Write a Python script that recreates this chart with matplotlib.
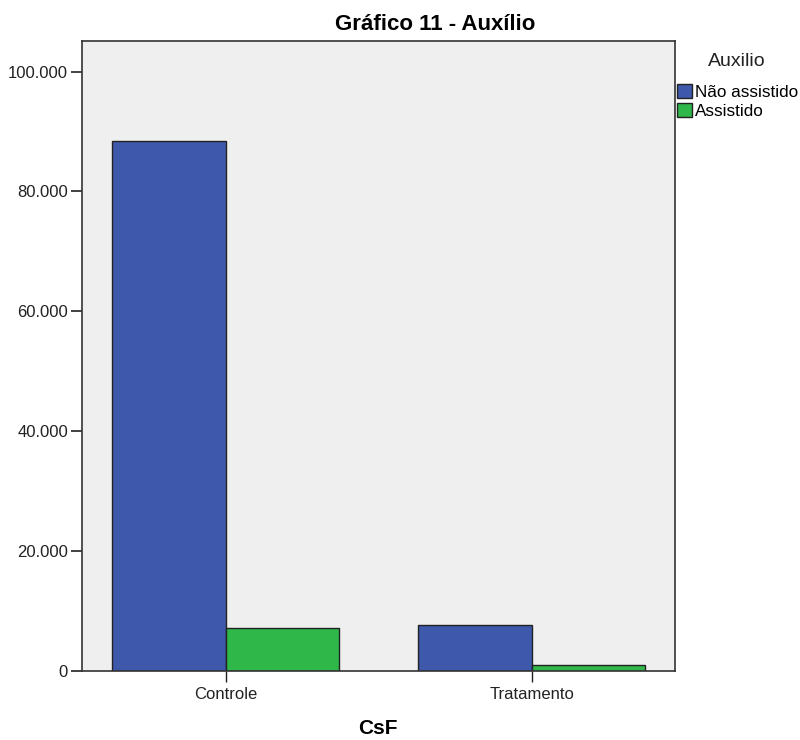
import matplotlib
matplotlib.use("Agg")
import matplotlib.pyplot as plt
import matplotlib.ticker as mticker
from matplotlib.patches import Patch
import numpy as np

plt.rcParams['font.family'] = ['Liberation Sans', 'DejaVu Sans']

# data
categorias = ['Controle', 'Tratamento']
nao_assistido = [88400, 7650]
assistido = [7100, 1000]
series_nomes = ['Não assistido', 'Assistido']
cores = ['#3e58ac', '#2fb74a']

fig = plt.figure(figsize=(8, 7.4), dpi=100)
ax = fig.add_axes([82/800, 1 - 670.7/740, (675 - 82)/800, (670.7 - 41)/740])
ax.set_facecolor('#efefef')

x = np.arange(len(categorias))
w = 0.371
ax.bar(x - w/2, nao_assistido, w, color=cores[0], edgecolor='#222222', linewidth=1, zorder=2)
ax.bar(x + w/2, assistido, w, color=cores[1], edgecolor='#222222', linewidth=1, zorder=2)

ax.set_xlim(-0.47, 1.468)
ax.set_ylim(0, 105100)
ax.set_xticks(x)
ax.set_xticklabels(categorias, fontsize=12, color='#222222')
ax.set_yticks(np.arange(0, 100001, 20000))
ax.yaxis.set_major_formatter(mticker.FuncFormatter(lambda v, p: f'{int(v):,}'.replace(',', '.')))
ax.tick_params(axis='y', labelsize=12, length=8, width=1.2, colors='#222222', pad=2)
ax.tick_params(axis='x', length=8, width=1, colors='#222222', pad=4)
for s in ax.spines.values():
    s.set_color('#333333')
    s.set_linewidth(1.2)

fig.text(378/800, 1 - 728/740, 'CsF', fontsize=15, fontweight='bold', ha='center', va='center')

fig.text(435/800, 1 - 25/740, 'Gráfico 11 - Auxílio', fontsize=16, fontweight='bold',
         ha='center', va='center')

fig.text(737/800, 1 - 62/740, 'Auxilio', fontsize=14, ha='center', va='center', color='#222222')
handles = [Patch(facecolor=c, edgecolor='#222222', linewidth=1) for c in cores]
fig.legend(handles, series_nomes, loc='upper left', bbox_to_anchor=(677/800, 1 - 84/740),
           frameon=False, fontsize=12.3, borderpad=0, borderaxespad=0,
           handlelength=0.85, handleheight=0.85, handletextpad=0.2, labelspacing=0.2)

fig.savefig('out.png', dpi=100)
